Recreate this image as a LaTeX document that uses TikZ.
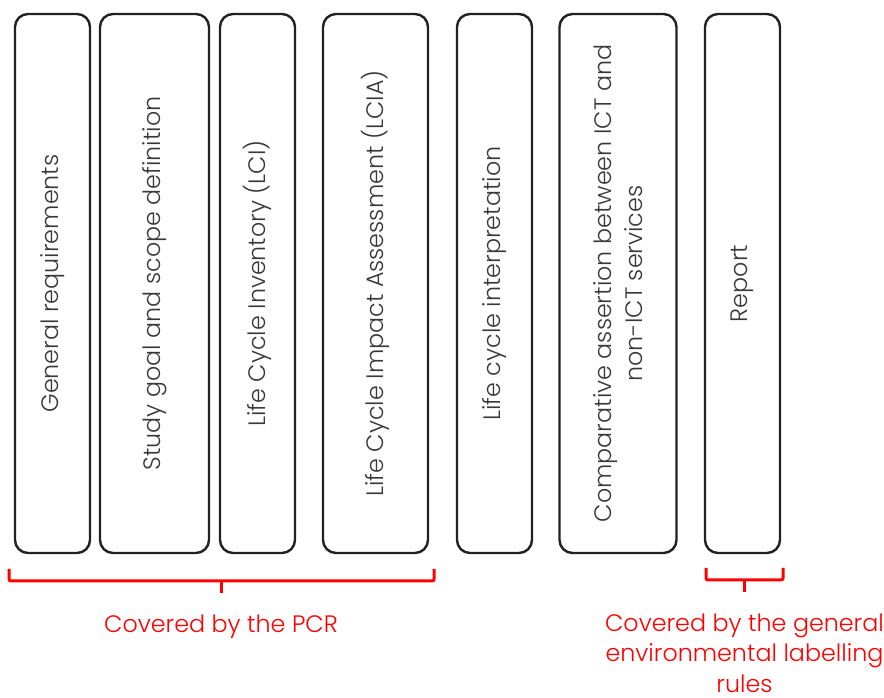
\documentclass[tikz,border=0pt]{standalone}
\usepackage{fontspec}
\setmainfont{Poppins}[UprightFont={* Light}]
\begin{document}
\begin{tikzpicture}[x=1pt,y=1pt,
  stage/.style={draw=black!87, line width=2.4pt, rotate=90, rounded corners=13pt,
    minimum width=539pt, align=center, font=\fontsize{23.8}{31.5}\selectfont,
    text=black!78, inner sep=0pt},
  brace/.style={draw=red, line width=3pt, rounded corners=2pt},
  note/.style={text=red, align=center, inner sep=0pt, font=\fontsize{23.8}{30.5}\selectfont}]
\useasboundingbox (0,0) rectangle (884,698);
% stage boxes (y measured from the top edge)
\node[stage, minimum height=75pt]  (gen)  at (52.5, 698-283.5) {General requirements};
\node[stage, minimum height=109pt] (goal) at (154.5,698-283.5) {Study goal and scope definition};
\node[stage, minimum height=75pt]  (lci)  at (257.5,698-283.5) {Life Cycle Inventory (LCI)};
\node[stage, minimum height=105pt] (lcia) at (375.5,698-283.5) {Life Cycle Impact Assessment (LCIA)};
\node[stage, minimum height=75pt]  (interp) at (494.5,698-283.5) {Life cycle interpretation};
\node[stage, minimum height=117pt] (comp) at (618,698-283.5) {Comparative assertion between ICT and\\non-ICT services};
\node[stage, minimum height=75pt]  (rep)  at (742.5,698-283.5) {Report};
% braces
\coordinate (b1l) at (9,698-569);
\coordinate (b1r) at (434,698-569);
\coordinate (b1m) at (221,698-581);
\coordinate (b1t) at (221,698-593);
\draw[brace] (b1l) |- (b1m) -| (b1r);
\draw[brace] (b1m) -- (b1t);
\coordinate (b2l) at (706,698-568);
\coordinate (b2r) at (783,698-568);
\coordinate (b2m) at (744.5,698-580);
\coordinate (b2t) at (744.5,698-592);
\draw[brace] (b2l) |- (b2m) -| (b2r);
\draw[brace] (b2m) -- (b2t);
% captions
\node[note, anchor=north] (pcr) at (b1t) [yshift=-21.5pt] {Covered by the PCR};
\node[note, anchor=north] (gel) at (b2t) [yshift=-21.5pt] {Covered by the general\\environmental labelling\\\smash{rules}};
\end{tikzpicture}
\end{document}
